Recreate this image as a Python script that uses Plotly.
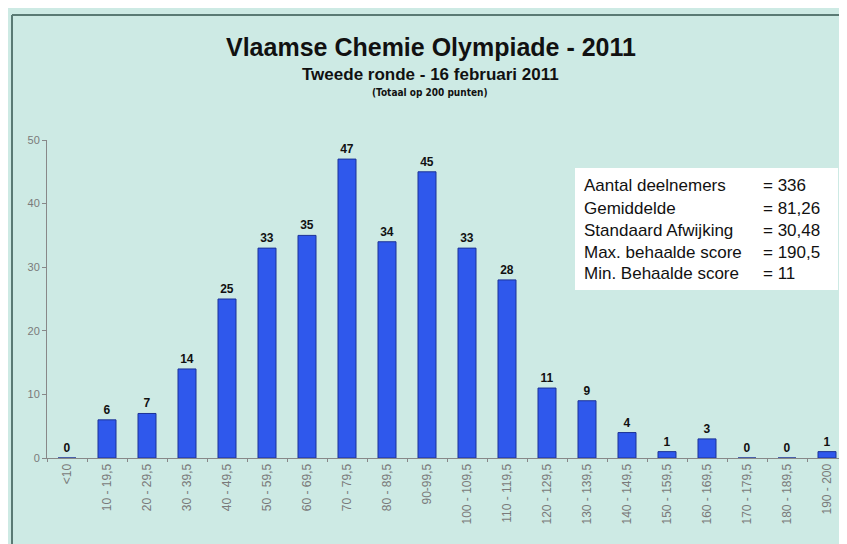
import plotly.graph_objects as go

categories = ["<10", "10 - 19,5", "20 - 29,5", "30 - 39,5", "40 - 49,5", "50 - 59,5",
              "60 - 69,5", "70 - 79,5", "80 - 89,5", "90-99,5", "100 - 109,5",
              "110 - 119,5", "120 - 129,5", "130 - 139,5", "140 - 149,5",
              "150 - 159,5", "160 - 169,5", "170 - 179,5", "180 - 189,5", "190 - 200"]
counts = [0, 6, 7, 14, 25, 33, 35, 47, 34, 45, 33, 28, 11, 9, 4, 1, 3, 0, 0, 1]
y_ticks = [0, 10, 20, 30, 40, 50]

stat_labels = ["Aantal deelnemers", "Gemiddelde", "Standaard Afwijking",
               "Max. behaalde score", "Min. Behaalde score"]
stat_values = ["= 336", "= 81,26", "= 30,48", "= 190,5", "= 11"]

# page body has an 8px margin; work in reference-pixel coordinates and shift
OFF = 8
W, H = 847 - OFF, 544 - OFF
L, R, T, B = 47 - OFF, 0, 140 - OFF, 544 - 458
pw, ph = W - L - R, H - T - B

def px(x):
    return (x - OFF - L) / pw

def py(y):
    return (H - B - (y - OFF)) / ph

bg = "#cdeae4"
font = "Liberation Sans, Arial, sans-serif"
narrow = "Liberation Sans Narrow, Arial Narrow, DejaVu Sans Condensed, sans-serif"

fig = go.Figure()
fig.add_trace(go.Bar(
    x=categories, y=counts, width=0.45,
    marker=dict(color="#2f58ec", line=dict(color="#1c3296", width=1)),
    text=[str(c) for c in counts], textposition="outside",
    textfont=dict(family=font, size=12, color="#111111"),
    texttemplate="<b>%{text}</b>", cliponaxis=False,
))

annotations = [
    dict(text="<b>Vlaamse Chemie Olympiade - 2011</b>", x=px(431), y=py(47),
         font=dict(size=25, color="#111111", family=font)),
    dict(text="<b>Tweede ronde - 16 februari 2011</b>", x=px(430), y=py(75),
         font=dict(size=17, color="#111111", family=font)),
    dict(text="<b>(Totaal op 200 punten)</b>", x=px(430), y=py(93),
         font=dict(size=10, color="#111111", family=narrow)),
]
for a in annotations:
    a.update(xref="paper", yref="paper", showarrow=False, xanchor="center", yanchor="middle")

line_y = [185, 208, 230, 252, 273]
for lab, val, yy in zip(stat_labels, stat_values, line_y):
    annotations.append(dict(text=lab, x=px(582), y=py(yy), xref="paper", yref="paper",
                            showarrow=False, xanchor="left", yanchor="middle",
                            font=dict(size=17, color="#111111", family=font)))
    annotations.append(dict(text=val, x=px(761), y=py(yy), xref="paper", yref="paper",
                            showarrow=False, xanchor="left", yanchor="middle",
                            font=dict(size=17, color="#111111", family=font)))

shapes = [
    dict(type="rect", xref="paper", yref="paper", x0=px(575), x1=px(838),
         y0=py(290), y1=py(168), fillcolor="white", line=dict(width=0), layer="below"),
    dict(type="line", xref="paper", yref="paper", x0=px(12), x1=px(860),
         y0=py(15), y1=py(15), line=dict(color="#5a7a74", width=2)),
    dict(type="line", xref="paper", yref="paper", x0=px(12), x1=px(12),
         y0=py(15), y1=py(560), line=dict(color="#5a7a74", width=2)),
]

fig.update_layout(
    width=W, height=H,
    margin=dict(l=L, r=R, t=T, b=B),
    paper_bgcolor=bg, plot_bgcolor=bg,
    showlegend=False,
    annotations=annotations, shapes=shapes,
    xaxis=dict(type="category", range=[-0.5, 19.5], showgrid=False, tickangle=-90,
               tickfont=dict(size=12, color="#7a7a7a", family=font),
               showline=True, linecolor="#888888", linewidth=1,
               ticks="outside", tickson="boundaries", ticklen=3, tickcolor="#888888",
               fixedrange=True),
    yaxis=dict(range=[0, 50], tickvals=y_ticks, showgrid=False, zeroline=False,
               showline=True, linecolor="#888888", linewidth=1,
               ticks="outside", ticklen=4, tickcolor="#888888",
               tickfont=dict(size=11, color="#7a7a7a", family=font)),
)

fig.write_html("out.html")
